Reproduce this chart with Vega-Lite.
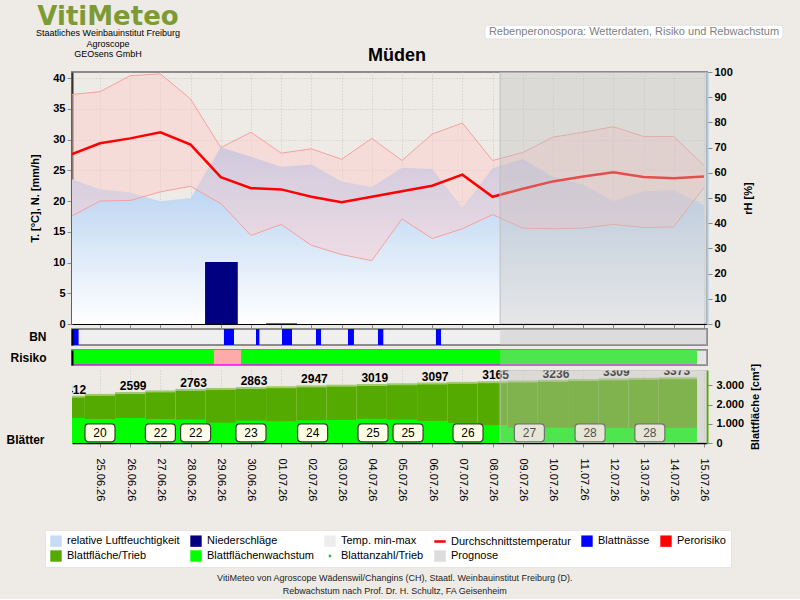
{
  "$schema": "https://vega.github.io/schema/vega-lite/v6.json",
  "background": "#EEEBE6",
  "padding": {"left": 5, "top": 4, "right": 17, "bottom": 3},
  "config": {
    "font": "Liberation Sans",
    "view": {"stroke": null},
    "axis": {"labelColor": "#000000", "titleColor": "#000000", "tickColor": "#8A8A8A", "domainColor": "#000000"},
    "title": {"offset": 0}
  },
  "datasets": {
    "wetter": [
      {"tag": "2026-06-24T00:00:00Z", "tmax": 37.3, "tmin": 17.4, "tmittel": 27.5, "rh": 57.8},
      {"tag": "2026-06-25T00:00:00Z", "tmax": 37.8, "tmin": 20.0, "tmittel": 29.4, "rh": 53.5},
      {"tag": "2026-06-26T00:00:00Z", "tmax": 40.4, "tmin": 20.1, "tmittel": 30.2, "rh": 52.2},
      {"tag": "2026-06-27T00:00:00Z", "tmax": 40.7, "tmin": 21.5, "tmittel": 31.2, "rh": 48.7},
      {"tag": "2026-06-28T00:00:00Z", "tmax": 36.6, "tmin": 22.4, "tmittel": 29.2, "rh": 50.0},
      {"tag": "2026-06-29T00:00:00Z", "tmax": 28.7, "tmin": 19.6, "tmittel": 23.9, "rh": 70.1},
      {"tag": "2026-06-30T00:00:00Z", "tmax": 31.2, "tmin": 14.4, "tmittel": 22.1, "rh": 66.4},
      {"tag": "2026-07-01T00:00:00Z", "tmax": 27.8, "tmin": 16.2, "tmittel": 21.9, "rh": 62.4},
      {"tag": "2026-07-02T00:00:00Z", "tmax": 28.5, "tmin": 12.8, "tmittel": 20.7, "rh": 63.3},
      {"tag": "2026-07-03T00:00:00Z", "tmax": 26.8, "tmin": 11.3, "tmittel": 19.8, "rh": 56.5},
      {"tag": "2026-07-04T00:00:00Z", "tmax": 30.2, "tmin": 10.3, "tmittel": 20.7, "rh": 54.4},
      {"tag": "2026-07-05T00:00:00Z", "tmax": 26.6, "tmin": 17.1, "tmittel": 21.6, "rh": 62.0},
      {"tag": "2026-07-06T00:00:00Z", "tmax": 30.9, "tmin": 13.9, "tmittel": 22.5, "rh": 61.5},
      {"tag": "2026-07-07T00:00:00Z", "tmax": 32.7, "tmin": 15.5, "tmittel": 24.3, "rh": 46.2},
      {"tag": "2026-07-08T00:00:00Z", "tmax": 26.6, "tmin": 17.8, "tmittel": 20.7, "rh": 61.8},
      {"tag": "2026-07-09T00:00:00Z", "tmax": 27.9, "tmin": 15.6, "tmittel": 22.0, "rh": 65.5},
      {"tag": "2026-07-10T00:00:00Z", "tmax": 30.4, "tmin": 15.5, "tmittel": 23.2, "rh": 58.4},
      {"tag": "2026-07-11T00:00:00Z", "tmax": 31.2, "tmin": 15.6, "tmittel": 24.0, "rh": 55.4},
      {"tag": "2026-07-12T00:00:00Z", "tmax": 32.1, "tmin": 16.2, "tmittel": 24.7, "rh": 48.8},
      {"tag": "2026-07-13T00:00:00Z", "tmax": 30.5, "tmin": 15.7, "tmittel": 23.9, "rh": 52.7},
      {"tag": "2026-07-14T00:00:00Z", "tmax": 30.5, "tmin": 15.8, "tmittel": 23.7, "rh": 53.1},
      {"tag": "2026-07-15T00:00:00Z", "tmax": 25.8, "tmin": 22.2, "tmittel": 24.0, "rh": 47.1}
    ],
    "niederschlag": [
      {"von": "2026-06-28T11:30:00Z", "bis": "2026-06-29T13:30:00Z", "mm": 10.1},
      {"von": "2026-06-30T12:00:00Z", "bis": "2026-07-01T12:30:00Z", "mm": 0.1}
    ],
    "blattnaesse": [
      {"von": "2026-06-24T00:00:00Z", "bis": "2026-06-24T07:00:00Z"},
      {"von": "2026-06-29T02:30:00Z", "bis": "2026-06-29T10:30:00Z"},
      {"von": "2026-06-30T04:00:00Z", "bis": "2026-06-30T06:40:00Z"},
      {"von": "2026-07-01T00:40:00Z", "bis": "2026-07-01T08:35:00Z"},
      {"von": "2026-07-02T03:40:00Z", "bis": "2026-07-02T07:40:00Z"},
      {"von": "2026-07-03T05:05:00Z", "bis": "2026-07-03T09:50:00Z"},
      {"von": "2026-07-04T04:55:00Z", "bis": "2026-07-04T09:10:00Z"},
      {"von": "2026-07-06T03:00:00Z", "bis": "2026-07-06T07:00:00Z"}
    ],
    "risiko": [
      {"von": "2026-06-24T00:00:00Z", "bis": "2026-06-28T18:35:00Z", "stufe": "gering"},
      {"von": "2026-06-28T18:35:00Z", "bis": "2026-06-29T16:05:00Z", "stufe": "mittel"},
      {"von": "2026-06-29T16:05:00Z", "bis": "2026-07-14T18:30:00Z", "stufe": "gering"}
    ],
    "blatt": [
      {"tag": "2026-06-24T00:00:00Z", "von": "2026-06-23T12:00:00Z", "bis": "2026-06-24T12:00:00Z", "flaeche": 2412, "wachstum": 1300},
      {"tag": "2026-06-25T00:00:00Z", "von": "2026-06-24T12:00:00Z", "bis": "2026-06-25T12:00:00Z", "flaeche": 2505, "wachstum": 1250},
      {"tag": "2026-06-26T00:00:00Z", "von": "2026-06-25T12:00:00Z", "bis": "2026-06-26T12:00:00Z", "flaeche": 2599, "wachstum": 1300},
      {"tag": "2026-06-27T00:00:00Z", "von": "2026-06-26T12:00:00Z", "bis": "2026-06-27T12:00:00Z", "flaeche": 2685, "wachstum": 1250},
      {"tag": "2026-06-28T00:00:00Z", "von": "2026-06-27T12:00:00Z", "bis": "2026-06-28T12:00:00Z", "flaeche": 2763, "wachstum": 1220},
      {"tag": "2026-06-29T00:00:00Z", "von": "2026-06-28T12:00:00Z", "bis": "2026-06-29T12:00:00Z", "flaeche": 2815, "wachstum": 1060},
      {"tag": "2026-06-30T00:00:00Z", "von": "2026-06-29T12:00:00Z", "bis": "2026-06-30T12:00:00Z", "flaeche": 2863, "wachstum": 1170},
      {"tag": "2026-07-01T00:00:00Z", "von": "2026-06-30T12:00:00Z", "bis": "2026-07-01T12:00:00Z", "flaeche": 2905, "wachstum": 1140},
      {"tag": "2026-07-02T00:00:00Z", "von": "2026-07-01T12:00:00Z", "bis": "2026-07-02T12:00:00Z", "flaeche": 2947, "wachstum": 1180},
      {"tag": "2026-07-03T00:00:00Z", "von": "2026-07-02T12:00:00Z", "bis": "2026-07-03T12:00:00Z", "flaeche": 2983, "wachstum": 1200},
      {"tag": "2026-07-04T00:00:00Z", "von": "2026-07-03T12:00:00Z", "bis": "2026-07-04T12:00:00Z", "flaeche": 3019, "wachstum": 1260},
      {"tag": "2026-07-05T00:00:00Z", "von": "2026-07-04T12:00:00Z", "bis": "2026-07-05T12:00:00Z", "flaeche": 3058, "wachstum": 1220},
      {"tag": "2026-07-06T00:00:00Z", "von": "2026-07-05T12:00:00Z", "bis": "2026-07-06T12:00:00Z", "flaeche": 3097, "wachstum": 1150},
      {"tag": "2026-07-07T00:00:00Z", "von": "2026-07-06T12:00:00Z", "bis": "2026-07-07T12:00:00Z", "flaeche": 3131, "wachstum": 1050},
      {"tag": "2026-07-08T00:00:00Z", "von": "2026-07-07T12:00:00Z", "bis": "2026-07-08T12:00:00Z", "flaeche": 3165, "wachstum": 930},
      {"tag": "2026-07-09T00:00:00Z", "von": "2026-07-08T12:00:00Z", "bis": "2026-07-09T12:00:00Z", "flaeche": 3200, "wachstum": 800},
      {"tag": "2026-07-10T00:00:00Z", "von": "2026-07-09T12:00:00Z", "bis": "2026-07-10T12:00:00Z", "flaeche": 3236, "wachstum": 800},
      {"tag": "2026-07-11T00:00:00Z", "von": "2026-07-10T12:00:00Z", "bis": "2026-07-11T12:00:00Z", "flaeche": 3273, "wachstum": 800},
      {"tag": "2026-07-12T00:00:00Z", "von": "2026-07-11T12:00:00Z", "bis": "2026-07-12T12:00:00Z", "flaeche": 3309, "wachstum": 790},
      {"tag": "2026-07-13T00:00:00Z", "von": "2026-07-12T12:00:00Z", "bis": "2026-07-13T12:00:00Z", "flaeche": 3341, "wachstum": 790},
      {"tag": "2026-07-14T00:00:00Z", "von": "2026-07-13T12:00:00Z", "bis": "2026-07-14T18:30:00Z", "flaeche": 3373, "wachstum": 800}
    ],
    "blattzahl": [
      {"zeit": "2026-06-25T00:00:00Z", "anzahl": 20},
      {"zeit": "2026-06-27T00:00:00Z", "anzahl": 22},
      {"zeit": "2026-06-28T04:00:00Z", "anzahl": 22},
      {"zeit": "2026-06-30T00:00:00Z", "anzahl": 23},
      {"zeit": "2026-07-02T01:00:00Z", "anzahl": 24},
      {"zeit": "2026-07-04T01:00:00Z", "anzahl": 25},
      {"zeit": "2026-07-05T04:50:00Z", "anzahl": 25},
      {"zeit": "2026-07-07T04:30:00Z", "anzahl": 26},
      {"zeit": "2026-07-09T05:15:00Z", "anzahl": 27},
      {"zeit": "2026-07-11T05:30:00Z", "anzahl": 28},
      {"zeit": "2026-07-13T05:00:00Z", "anzahl": 28}
    ],
    "prognose": [{"von": "2026-07-08T06:00:00Z", "bis": "2026-07-15T06:00:00Z"}],
    "kopf": [{"zeile": "kopf", "text": "Rebenperonospora: Wetterdaten, Risiko und Rebwachstum"}]
  },
  "title": {
    "text": ["VitiMeteo von Agroscope Wädenswil/Changins (CH), Staatl. Weinbauinstitut Freiburg (D).", "Rebwachstum nach Prof. Dr. H. Schultz, FA Geisenheim"],
    "orient": "bottom", "anchor": "middle", "fontSize": 9, "fontWeight": "normal", "color": "#222222", "lineHeight": 13, "offset": 6
  },
  "columns": 1,
  "align": "none",
  "spacing": 0,
  "resolve": {"scale": {"color": "independent"}, "legend": {"color": "independent"}},
  "concat": [
    {
      "hconcat": [
        {
          "width": 72, "height": 1,
          "title": {
            "text": "VitiMeteo",
            "subtitle": ["Staatliches Weinbauinstitut Freiburg", "Agroscope", "GEOsens GmbH"],
            "orient": "bottom", "anchor": "middle", "font": "DejaVu Sans", "fontSize": 26, "fontWeight": "bold", "color": "#7D9B32",
            "subtitleFont": "Liberation Sans", "subtitleFontSize": 9, "subtitleColor": "#000000",
            "subtitleLineHeight": 10.5, "subtitlePadding": -1, "offset": -3
          },
          "data": {"values": [{}]},
          "mark": {"type": "rect", "opacity": 0}
        },
        {
          "width": 292, "height": 38,
          "title": {"text": "Müden", "orient": "bottom", "anchor": "middle", "dx": 65, "fontSize": 18, "fontWeight": "bold", "color": "#000000", "offset": 3},
          "data": {"values": [{}]},
          "mark": {"type": "rect", "opacity": 0}
        },
        {
          "width": 298, "height": 33,
          "data": {"name": "kopf"},
          "encoding": {
            "y": {"field": "zeile", "type": "nominal", "scale": {"paddingInner": 0, "paddingOuter": 0.7, "align": 1}, "axis": null}
          },
          "layer": [
            {"mark": {"type": "rect", "fill": "#FFFFFF", "stroke": "#E2E2E2", "cornerRadius": 3}},
            {"mark": {"type": "text", "color": "#808080", "fontSize": 11}, "encoding": {"text": {"field": "text"}}}
          ]
        }
      ],
      "spacing": 6
    },
    {
      "vconcat": [
        {
          "width": 635, "height": 252,
          "view": {"stroke": "#8C8C8C", "strokeWidth": 2},
          "resolve": {"scale": {"y": "independent"}},
          "layer": [
            {
              "data": {"name": "wetter"},
              "mark": {
                "type": "area", "clip": true, "interpolate": "linear",
                "color": {"gradient": "linear", "x1": 0, "y1": 1, "x2": 0, "y2": 0, "stops": [{"offset": 0, "color": "#FFFFFF"}, {"offset": 1, "color": "#A9C9EE"}]}
              },
              "encoding": {
                "x": {"field": "tag", "type": "temporal",
                  "scale": {"type": "utc", "domain": [{"year": 2026, "month": 6, "date": 24, "hours": 1, "minutes": 45, "utc": true}, {"year": 2026, "month": 7, "date": 15, "hours": 2, "minutes": 25, "utc": true}]},
                  "axis": {"title": null, "labels": false, "tickCount": {"interval": "day", "step": 1}, "tickSize": 4, "tickColor": "#8A8A8A", "domainColor": "#000000", "domainWidth": 1, "grid": true, "gridColor": "#C8C8C8", "gridDash": [1, 2]}},
                "y": {"field": "rh", "type": "quantitative", "scale": {"domain": [0, 100], "nice": false},
                  "axis": {"orient": "right", "title": "rH [%]", "values": [0, 10, 20, 30, 40, 50, 60, 70, 80, 90, 100], "labelOverlap": false, "grid": false, "domainColor": "#A8C8EC", "domainWidth": 2, "tickSize": 5, "tickColor": "#8A8A8A", "labelFontWeight": "bold", "labelFontSize": 11, "labelPadding": 2, "titleFontSize": 11, "titleFontWeight": "bold", "titleAngle": 270, "titleBaseline": "top", "titlePadding": 10}}
              }
            },
            {
              "data": {"name": "wetter"},
              "layer": [
                {
                  "mark": {"type": "area", "clip": true, "color": "#FFCACA", "opacity": 0.45},
                  "encoding": {
                    "x": {"field": "tag", "type": "temporal", "scale": {"type": "utc", "domain": [{"year": 2026, "month": 6, "date": 24, "hours": 1, "minutes": 45, "utc": true}, {"year": 2026, "month": 7, "date": 15, "hours": 2, "minutes": 25, "utc": true}]},
                      "axis": {"title": null, "labels": false, "tickCount": {"interval": "day", "step": 1}, "tickSize": 4, "tickColor": "#8A8A8A", "domainColor": "#000000", "domainWidth": 1, "grid": true, "gridColor": "#C8C8C8", "gridDash": [1, 2]}},
                    "y": {"field": "tmin", "type": "quantitative", "scale": {"domain": [0, 41], "nice": false},
                      "axis": {"title": "T. [°C], N. [mm/h]", "values": [0, 5, 10, 15, 20, 25, 30, 35, 40], "labelOverlap": false, "grid": true, "gridColor": "#C8C8C8", "gridDash": [1, 2], "domainColor": "#333333", "domainWidth": 2, "tickSize": 5, "tickColor": "#8A8A8A", "labelFontWeight": "bold", "labelFontSize": 11, "labelPadding": 2, "titleFontSize": 11, "titleFontWeight": "bold", "titlePadding": 12}},
                    "y2": {"field": "tmax"}
                  }
                },
                {
                  "mark": {"type": "line", "clip": true, "color": "#F5A0A0", "strokeWidth": 1},
                  "encoding": {
                    "x": {"field": "tag", "type": "temporal", "scale": {"type": "utc", "domain": [{"year": 2026, "month": 6, "date": 24, "hours": 1, "minutes": 45, "utc": true}, {"year": 2026, "month": 7, "date": 15, "hours": 2, "minutes": 25, "utc": true}]},
                      "axis": {"title": null, "labels": false, "tickCount": {"interval": "day", "step": 1}, "tickSize": 4, "tickColor": "#8A8A8A", "domainColor": "#000000", "domainWidth": 1, "grid": true, "gridColor": "#C8C8C8", "gridDash": [1, 2]}},
                    "y": {"field": "tmax", "type": "quantitative", "scale": {"domain": [0, 41], "nice": false},
                      "axis": {"title": "T. [°C], N. [mm/h]", "values": [0, 5, 10, 15, 20, 25, 30, 35, 40], "labelOverlap": false, "grid": true, "gridColor": "#C8C8C8", "gridDash": [1, 2], "domainColor": "#333333", "domainWidth": 2, "tickSize": 5, "tickColor": "#8A8A8A", "labelFontWeight": "bold", "labelFontSize": 11, "labelPadding": 2, "titleFontSize": 11, "titleFontWeight": "bold", "titlePadding": 12}}
                  }
                },
                {
                  "mark": {"type": "line", "clip": true, "color": "#F5A0A0", "strokeWidth": 1},
                  "encoding": {
                    "x": {"field": "tag", "type": "temporal", "scale": {"type": "utc", "domain": [{"year": 2026, "month": 6, "date": 24, "hours": 1, "minutes": 45, "utc": true}, {"year": 2026, "month": 7, "date": 15, "hours": 2, "minutes": 25, "utc": true}]},
                      "axis": {"title": null, "labels": false, "tickCount": {"interval": "day", "step": 1}, "tickSize": 4, "tickColor": "#8A8A8A", "domainColor": "#000000", "domainWidth": 1, "grid": true, "gridColor": "#C8C8C8", "gridDash": [1, 2]}},
                    "y": {"field": "tmin", "type": "quantitative", "scale": {"domain": [0, 41], "nice": false},
                      "axis": {"title": "T. [°C], N. [mm/h]", "values": [0, 5, 10, 15, 20, 25, 30, 35, 40], "labelOverlap": false, "grid": true, "gridColor": "#C8C8C8", "gridDash": [1, 2], "domainColor": "#333333", "domainWidth": 2, "tickSize": 5, "tickColor": "#8A8A8A", "labelFontWeight": "bold", "labelFontSize": 11, "labelPadding": 2, "titleFontSize": 11, "titleFontWeight": "bold", "titlePadding": 12}}
                  }
                },
                {
                  "mark": {"type": "line", "clip": true, "color": "#FF0000", "strokeWidth": 2.5},
                  "encoding": {
                    "x": {"field": "tag", "type": "temporal", "scale": {"type": "utc", "domain": [{"year": 2026, "month": 6, "date": 24, "hours": 1, "minutes": 45, "utc": true}, {"year": 2026, "month": 7, "date": 15, "hours": 2, "minutes": 25, "utc": true}]},
                      "axis": {"title": null, "labels": false, "tickCount": {"interval": "day", "step": 1}, "tickSize": 4, "tickColor": "#8A8A8A", "domainColor": "#000000", "domainWidth": 1, "grid": true, "gridColor": "#C8C8C8", "gridDash": [1, 2]}},
                    "y": {"field": "tmittel", "type": "quantitative", "scale": {"domain": [0, 41], "nice": false},
                      "axis": {"title": "T. [°C], N. [mm/h]", "values": [0, 5, 10, 15, 20, 25, 30, 35, 40], "labelOverlap": false, "grid": true, "gridColor": "#C8C8C8", "gridDash": [1, 2], "domainColor": "#333333", "domainWidth": 2, "tickSize": 5, "tickColor": "#8A8A8A", "labelFontWeight": "bold", "labelFontSize": 11, "labelPadding": 2, "titleFontSize": 11, "titleFontWeight": "bold", "titlePadding": 12}}
                  }
                },
                {
                  "data": {"name": "niederschlag"},
                  "mark": {"type": "rect", "clip": true, "color": "#000080"},
                  "encoding": {
                    "x": {"field": "von", "type": "temporal", "scale": {"type": "utc", "domain": [{"year": 2026, "month": 6, "date": 24, "hours": 1, "minutes": 45, "utc": true}, {"year": 2026, "month": 7, "date": 15, "hours": 2, "minutes": 25, "utc": true}]},
                      "axis": {"title": null, "labels": false, "tickCount": {"interval": "day", "step": 1}, "tickSize": 4, "tickColor": "#8A8A8A", "domainColor": "#000000", "domainWidth": 1, "grid": true, "gridColor": "#C8C8C8", "gridDash": [1, 2]}},
                    "x2": {"field": "bis"},
                    "y": {"field": "mm", "type": "quantitative", "scale": {"domain": [0, 41], "nice": false},
                      "axis": {"title": "T. [°C], N. [mm/h]", "values": [0, 5, 10, 15, 20, 25, 30, 35, 40], "labelOverlap": false, "grid": true, "gridColor": "#C8C8C8", "gridDash": [1, 2], "domainColor": "#333333", "domainWidth": 2, "tickSize": 5, "tickColor": "#8A8A8A", "labelFontWeight": "bold", "labelFontSize": 11, "labelPadding": 2, "titleFontSize": 11, "titleFontWeight": "bold", "titlePadding": 12}},
                    "y2": {"datum": 0}
                  }
                }
              ]
            },
            {
              "data": {"name": "prognose"},
              "mark": {"type": "rect", "clip": true, "fill": "#C0C0C0", "fillOpacity": 0.4, "stroke": "#BEBEBE", "strokeWidth": 1},
              "encoding": {
                "x": {"field": "von", "type": "temporal", "scale": {"type": "utc", "domain": [{"year": 2026, "month": 6, "date": 24, "hours": 1, "minutes": 45, "utc": true}, {"year": 2026, "month": 7, "date": 15, "hours": 2, "minutes": 25, "utc": true}]},
                  "axis": {"title": null, "labels": false, "tickCount": {"interval": "day", "step": 1}, "tickSize": 4, "tickColor": "#8A8A8A", "domainColor": "#000000", "domainWidth": 1, "grid": true, "gridColor": "#C8C8C8", "gridDash": [1, 2]}},
                "x2": {"field": "bis"}
              }
            }
          ]
        },
        {
          "width": 635, "height": 16,
          "view": {"fill": "#EFEFEF", "stroke": "#8C8C8C", "strokeWidth": 2},
          "layer": [
            {
              "data": {"name": "blattnaesse"},
              "mark": {"type": "rect", "clip": true, "color": "#0000FF"},
              "encoding": {
                "x": {"field": "von", "type": "temporal", "scale": {"type": "utc", "domain": [{"year": 2026, "month": 6, "date": 24, "hours": 1, "minutes": 45, "utc": true}, {"year": 2026, "month": 7, "date": 15, "hours": 2, "minutes": 25, "utc": true}]}, "axis": null},
                "x2": {"field": "bis"},
                "y": {"datum": "BN", "type": "nominal", "scale": {"paddingInner": 0, "paddingOuter": 0},
                  "axis": {"title": null, "ticks": false, "domainColor": "#000000", "domainWidth": 2, "labelPadding": 26, "labelFontSize": 12, "labelFontWeight": "bold", "labelColor": "#000000"}}
              }
            },
            {
              "data": {"name": "prognose"},
              "mark": {"type": "rect", "clip": true, "fill": "#C0C0C0", "fillOpacity": 0.4},
              "encoding": {
                "x": {"field": "von", "type": "temporal", "scale": {"type": "utc", "domain": [{"year": 2026, "month": 6, "date": 24, "hours": 1, "minutes": 45, "utc": true}, {"year": 2026, "month": 7, "date": 15, "hours": 2, "minutes": 25, "utc": true}]}, "axis": null},
                "x2": {"field": "bis"}
              }
            }
          ]
        },
        {
          "width": 635, "height": 15,
          "view": {"fill": "#FFFFFF", "stroke": "#8C8C8C", "strokeWidth": 2},
          "layer": [
            {
              "data": {"name": "risiko"},
              "mark": {"type": "rect", "clip": true},
              "encoding": {
                "x": {"field": "von", "type": "temporal", "scale": {"type": "utc", "domain": [{"year": 2026, "month": 6, "date": 24, "hours": 1, "minutes": 45, "utc": true}, {"year": 2026, "month": 7, "date": 15, "hours": 2, "minutes": 25, "utc": true}]}, "axis": null},
                "x2": {"field": "bis"},
                "y": {"datum": "Risiko", "type": "nominal", "scale": {"paddingInner": 0, "paddingOuter": 0},
                  "axis": {"title": null, "ticks": false, "domainColor": "#000000", "domainWidth": 2, "labelPadding": 26, "labelFontSize": 12, "labelFontWeight": "bold", "labelColor": "#000000"}},
                "color": {"field": "stufe", "type": "nominal", "scale": {"domain": ["gering", "mittel", "hoch"], "range": ["#00FF00", "#FFAAAA", "#FF0000"]}, "legend": null}
              }
            },
            {
              "data": {"name": "risiko"},
              "mark": {"type": "rule", "clip": true, "color": "#FF00FF", "strokeWidth": 1.5},
              "encoding": {
                "x": {"field": "von", "type": "temporal", "scale": {"type": "utc", "domain": [{"year": 2026, "month": 6, "date": 24, "hours": 1, "minutes": 45, "utc": true}, {"year": 2026, "month": 7, "date": 15, "hours": 2, "minutes": 25, "utc": true}]}, "axis": null},
                "x2": {"field": "bis"},
                "y": {"datum": "Risiko", "type": "nominal", "bandPosition": 1,
                  "axis": {"title": null, "ticks": false, "domainColor": "#000000", "domainWidth": 2, "labelPadding": 26, "labelFontSize": 12, "labelFontWeight": "bold", "labelColor": "#000000"}}
              }
            },
            {
              "data": {"name": "prognose"},
              "mark": {"type": "rect", "clip": true, "fill": "#C0C0C0", "fillOpacity": 0.4},
              "encoding": {
                "x": {"field": "von", "type": "temporal", "scale": {"type": "utc", "domain": [{"year": 2026, "month": 6, "date": 24, "hours": 1, "minutes": 45, "utc": true}, {"year": 2026, "month": 7, "date": 15, "hours": 2, "minutes": 25, "utc": true}]}, "axis": null},
                "x2": {"field": "bis"}
              }
            }
          ]
        },
        {
          "width": 635, "height": 73,
          "resolve": {"scale": {"y": "independent"}},
          "layer": [
            {
              "data": {"name": "blatt"},
              "layer": [
                {
                  "mark": {"type": "rect", "clip": true},
                  "encoding": {
                    "x": {"field": "von", "type": "temporal",
                      "scale": {"type": "utc", "domain": [{"year": 2026, "month": 6, "date": 24, "hours": 1, "minutes": 45, "utc": true}, {"year": 2026, "month": 7, "date": 15, "hours": 2, "minutes": 25, "utc": true}]},
                      "axis": {"title": null, "format": "%d.%m.%y", "labelAngle": 90, "labelFontSize": 11, "labelColor": "#000000", "labelPadding": 11, "tickCount": {"interval": "day", "step": 1}, "tickSize": 4, "tickColor": "#8A8A8A", "domainColor": "#000000", "domainWidth": 1.5, "grid": true, "gridColor": "#C8C8C8", "gridDash": [1, 2], "labelOverlap": false, "labelFlush": false}},
                    "x2": {"field": "bis"},
                    "y": {"field": "flaeche", "type": "quantitative", "scale": {"domain": [0, 3800], "nice": false},
                      "axis": {"orient": "right", "title": "Blattfläche [cm²]", "values": [0, 1000, 2000, 3000], "labelOverlap": false, "labelExpr": "replace(format(datum.value, ','), ',', '.')", "grid": false, "domainColor": "#55AA00", "domainWidth": 2, "tickSize": 5, "tickColor": "#8A8A8A", "labelFontWeight": "bold", "labelFontSize": 11, "labelPadding": 4, "titleFontSize": 11, "titleFontWeight": "bold", "titleAngle": 270, "titleBaseline": "top", "titlePadding": 6}},
                    "y2": {"datum": 0},
                    "color": {
                      "datum": "Blattfläche/Trieb", "type": "nominal",
                      "scale": {
                        "domain": ["relative Luftfeuchtigkeit", "Niederschläge", "Temp. min-max", "Durchschnittstemperatur", "Blattnässe", "Perorisiko", "Blattfläche/Trieb", "Blattflächenwachstum", "Blattanzahl/Trieb", "Prognose"],
                        "range": ["#C6DBF3", "#000080", "#EDEDED", "#FF0000", "#0000FF", "#FF0000", "#55AA00", "#00FF00", "#3BB54A", "#DCDCDC"]
                      },
                      "legend": {
                        "orient": "none", "legendX": -27, "legendY": 160,
                        "direction": "horizontal", "columns": 6, "title": null,
                        "fillColor": "#FFFFFF", "strokeColor": "#E4E4E4", "padding": 5,
                        "labelFontSize": 11, "labelColor": "#000000", "labelLimit": 200,
                        "symbolType": "square", "symbolSize": 130, "symbolStrokeWidth": 0,
                        "columnPadding": 10, "rowPadding": 3, "labelOffset": 5,
                        "encode": {
                          "symbols": {
                            "update": {
                              "shape": {"signal": "datum.value === 'Durchschnittstemperatur' ? 'M-1,-0.22H1V0.22H-1Z' : datum.value === 'Blattanzahl/Trieb' ? 'circle' : 'square'"},
                              "size": {"signal": "datum.value === 'Blattanzahl/Trieb' ? 8 : 130"}
                            }
                          }
                        }
                      }
                    }
                  }
                },
                {
                  "mark": {"type": "rule", "clip": true, "color": "#9FCB6A", "strokeWidth": 2},
                  "encoding": {
                    "x": {"field": "von", "type": "temporal", "scale": {"type": "utc", "domain": [{"year": 2026, "month": 6, "date": 24, "hours": 1, "minutes": 45, "utc": true}, {"year": 2026, "month": 7, "date": 15, "hours": 2, "minutes": 25, "utc": true}]},
                      "axis": {"title": null, "format": "%d.%m.%y", "labelAngle": 90, "labelFontSize": 11, "labelColor": "#000000", "labelPadding": 11, "tickCount": {"interval": "day", "step": 1}, "tickSize": 4, "tickColor": "#8A8A8A", "domainColor": "#000000", "domainWidth": 1.5, "grid": true, "gridColor": "#C8C8C8", "gridDash": [1, 2], "labelOverlap": false, "labelFlush": false}},
                    "x2": {"field": "bis"},
                    "y": {"field": "flaeche", "type": "quantitative", "scale": {"domain": [0, 3800], "nice": false},
                      "axis": {"orient": "right", "title": "Blattfläche [cm²]", "values": [0, 1000, 2000, 3000], "labelOverlap": false, "labelExpr": "replace(format(datum.value, ','), ',', '.')", "grid": false, "domainColor": "#55AA00", "domainWidth": 2, "tickSize": 5, "tickColor": "#8A8A8A", "labelFontWeight": "bold", "labelFontSize": 11, "labelPadding": 4, "titleFontSize": 11, "titleFontWeight": "bold", "titleAngle": 270, "titleBaseline": "top", "titlePadding": 6}}
                  }
                },
                {
                  "mark": {"type": "rect", "clip": true},
                  "encoding": {
                    "x": {"field": "von", "type": "temporal", "scale": {"type": "utc", "domain": [{"year": 2026, "month": 6, "date": 24, "hours": 1, "minutes": 45, "utc": true}, {"year": 2026, "month": 7, "date": 15, "hours": 2, "minutes": 25, "utc": true}]},
                      "axis": {"title": null, "format": "%d.%m.%y", "labelAngle": 90, "labelFontSize": 11, "labelColor": "#000000", "labelPadding": 11, "tickCount": {"interval": "day", "step": 1}, "tickSize": 4, "tickColor": "#8A8A8A", "domainColor": "#000000", "domainWidth": 1.5, "grid": true, "gridColor": "#C8C8C8", "gridDash": [1, 2], "labelOverlap": false, "labelFlush": false}},
                    "x2": {"field": "bis"},
                    "y": {"field": "wachstum", "type": "quantitative", "scale": {"domain": [0, 3800], "nice": false},
                      "axis": {"orient": "right", "title": "Blattfläche [cm²]", "values": [0, 1000, 2000, 3000], "labelOverlap": false, "labelExpr": "replace(format(datum.value, ','), ',', '.')", "grid": false, "domainColor": "#55AA00", "domainWidth": 2, "tickSize": 5, "tickColor": "#8A8A8A", "labelFontWeight": "bold", "labelFontSize": 11, "labelPadding": 4, "titleFontSize": 11, "titleFontWeight": "bold", "titleAngle": 270, "titleBaseline": "top", "titlePadding": 6}},
                    "y2": {"datum": 0},
                    "color": {"datum": "Blattflächenwachstum", "type": "nominal"}
                  }
                },
                {
                  "transform": [{"filter": "utcdate(datum.tag) % 2 === 0"}],
                  "mark": {"type": "text", "clip": true, "baseline": "bottom", "dy": 0, "dx": 3, "fontSize": 12, "fontWeight": "bold", "color": "#000000"},
                  "encoding": {
                    "x": {"field": "tag", "type": "temporal", "scale": {"type": "utc", "domain": [{"year": 2026, "month": 6, "date": 24, "hours": 1, "minutes": 45, "utc": true}, {"year": 2026, "month": 7, "date": 15, "hours": 2, "minutes": 25, "utc": true}]},
                      "axis": {"title": null, "format": "%d.%m.%y", "labelAngle": 90, "labelFontSize": 11, "labelColor": "#000000", "labelPadding": 11, "tickCount": {"interval": "day", "step": 1}, "tickSize": 4, "tickColor": "#8A8A8A", "domainColor": "#000000", "domainWidth": 1.5, "grid": true, "gridColor": "#C8C8C8", "gridDash": [1, 2], "labelOverlap": false, "labelFlush": false}},
                    "y": {"field": "flaeche", "type": "quantitative", "scale": {"domain": [0, 3800], "nice": false},
                      "axis": {"orient": "right", "title": "Blattfläche [cm²]", "values": [0, 1000, 2000, 3000], "labelOverlap": false, "labelExpr": "replace(format(datum.value, ','), ',', '.')", "grid": false, "domainColor": "#55AA00", "domainWidth": 2, "tickSize": 5, "tickColor": "#8A8A8A", "labelFontWeight": "bold", "labelFontSize": 11, "labelPadding": 4, "titleFontSize": 11, "titleFontWeight": "bold", "titleAngle": 270, "titleBaseline": "top", "titlePadding": 6}},
                    "text": {"field": "flaeche", "type": "quantitative", "format": "d"}
                  }
                }
              ]
            },
            {
              "data": {"name": "blattzahl"},
              "layer": [
                {
                  "mark": {"type": "point", "clip": true, "shape": "M-0.75,-0.6H0.75Q1,-0.6 1,-0.35V0.35Q1,0.6 0.75,0.6H-0.75Q-1,0.6 -1,0.35V-0.35Q-1,-0.6 -0.75,-0.6Z", "size": 900, "filled": true, "fill": "#FFFFE6", "stroke": "#3C3C3C", "strokeWidth": 1.2, "opacity": 1},
                  "encoding": {
                    "x": {"field": "zeit", "type": "temporal", "scale": {"type": "utc", "domain": [{"year": 2026, "month": 6, "date": 24, "hours": 1, "minutes": 45, "utc": true}, {"year": 2026, "month": 7, "date": 15, "hours": 2, "minutes": 25, "utc": true}]},
                      "axis": {"title": null, "format": "%d.%m.%y", "labelAngle": 90, "labelFontSize": 11, "labelColor": "#000000", "labelPadding": 11, "tickCount": {"interval": "day", "step": 1}, "tickSize": 4, "tickColor": "#8A8A8A", "domainColor": "#000000", "domainWidth": 1.5, "grid": true, "gridColor": "#C8C8C8", "gridDash": [1, 2], "labelOverlap": false, "labelFlush": false}},
                    "y": {"datum": 0.14, "type": "quantitative", "scale": {"domain": [0, 1], "nice": false},
                      "axis": {"orient": "left", "title": "Blätter", "titleAngle": 0, "titleAnchor": "start", "titleAlign": "right", "titleBaseline": "alphabetic", "titlePadding": 28, "titleFontSize": 12, "titleFontWeight": "bold", "titleColor": "#000000", "domain": false, "ticks": false, "labels": false, "grid": false}}
                  }
                },
                {
                  "mark": {"type": "text", "clip": true, "fontSize": 12, "color": "#000000", "baseline": "middle"},
                  "encoding": {
                    "x": {"field": "zeit", "type": "temporal", "scale": {"type": "utc", "domain": [{"year": 2026, "month": 6, "date": 24, "hours": 1, "minutes": 45, "utc": true}, {"year": 2026, "month": 7, "date": 15, "hours": 2, "minutes": 25, "utc": true}]},
                      "axis": {"title": null, "format": "%d.%m.%y", "labelAngle": 90, "labelFontSize": 11, "labelColor": "#000000", "labelPadding": 11, "tickCount": {"interval": "day", "step": 1}, "tickSize": 4, "tickColor": "#8A8A8A", "domainColor": "#000000", "domainWidth": 1.5, "grid": true, "gridColor": "#C8C8C8", "gridDash": [1, 2], "labelOverlap": false, "labelFlush": false}},
                    "y": {"datum": 0.14, "type": "quantitative", "scale": {"domain": [0, 1], "nice": false},
                      "axis": {"orient": "left", "title": "Blätter", "titleAngle": 0, "titleAnchor": "start", "titleAlign": "right", "titleBaseline": "alphabetic", "titlePadding": 28, "titleFontSize": 12, "titleFontWeight": "bold", "titleColor": "#000000", "domain": false, "ticks": false, "labels": false, "grid": false}},
                    "text": {"field": "anzahl", "type": "quantitative"}
                  }
                }
              ]
            },
            {
              "data": {"name": "prognose"},
              "mark": {"type": "rect", "clip": true, "fill": "#C0C0C0", "fillOpacity": 0.4, "stroke": "#BEBEBE", "strokeWidth": 1},
              "encoding": {
                "x": {"field": "von", "type": "temporal", "scale": {"type": "utc", "domain": [{"year": 2026, "month": 6, "date": 24, "hours": 1, "minutes": 45, "utc": true}, {"year": 2026, "month": 7, "date": 15, "hours": 2, "minutes": 25, "utc": true}]},
                  "axis": {"title": null, "format": "%d.%m.%y", "labelAngle": 90, "labelFontSize": 11, "labelColor": "#000000", "labelPadding": 11, "tickCount": {"interval": "day", "step": 1}, "tickSize": 4, "tickColor": "#8A8A8A", "domainColor": "#000000", "domainWidth": 1.5, "grid": true, "gridColor": "#C8C8C8", "gridDash": [1, 2], "labelOverlap": false, "labelFlush": false}},
                "x2": {"field": "bis"}
              }
            }
          ]
        }
      ],
      "spacing": 5,
      "bounds": "flush",
      "resolve": {"scale": {"color": "independent"}, "legend": {"color": "independent"}}
    }
  ]
}
